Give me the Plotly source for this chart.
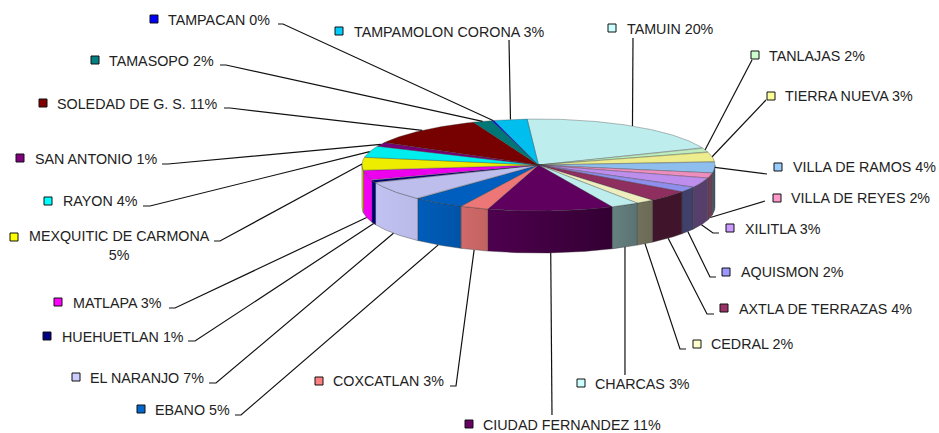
import math
import plotly.graph_objects as go

categories = ["TAMUIN", "TANLAJAS", "TIERRA NUEVA", "VILLA DE RAMOS", "VILLA DE REYES", "XILITLA",
              "AQUISMON", "AXTLA DE TERRAZAS", "CEDRAL", "CHARCAS", "CIUDAD FERNANDEZ", "COXCATLAN",
              "EBANO", "EL NARANJO", "HUEHUETLAN", "MATLAPA", "MEXQUITIC DE CARMONA", "RAYON",
              "SAN ANTONIO", "SOLEDAD DE G. S.", "TAMASOPO", "TAMPACAN", "TAMPAMOLON CORONA"]
values = [19.8, 1.5, 3.4, 3.9, 1.8, 3.4, 1.9, 3.9, 1.7, 2.6, 11.4, 2.6, 4.7, 6.7, 0.9, 3.4, 4.6, 4.0,
          1.4, 10.8, 1.75, 0.2, 3.0]
percent_labels = ["20%", "2%", "3%", "4%", "2%", "3%", "2%", "4%", "2%", "3%", "11%", "3%", "5%", "7%",
                  "1%", "3%", "5%", "4%", "1%", "11%", "2%", "0%", "3%"]
colors = ["#CCFFFF", "#CCFFCC", "#FFFF99", "#99CCFF", "#FF99CC", "#CC99FF", "#9999FF", "#993366", "#FFFFCC",
          "#CCFFFF", "#660066", "#FF8080", "#0066CC", "#CCCCFF", "#000080", "#FF00FF", "#FFFF00", "#00FFFF",
          "#800080", "#800000", "#008080", "#0000FF", "#00CCFF"]

# Layout (pixel space of the page): pie geometry
CX, CY, RX, RY, DEPTH = 538.5, 165.0, 176.5, 46.0, 42.0
START_DEG = -3.7
# Label layout: key x, key y, text x, text y, stub-inner x, stub-outer x, stub y
label_layout = {
    "TAMUIN": (612, 28, 625.5, 29, 633, 633, 38),
    "TANLAJAS": (755, 55, 767.5, 56, 752, 752, 60),
    "TIERRA NUEVA": (771, 96, 783.5, 96, 766, 766, 100),
    "VILLA DE RAMOS": (778, 167, 791.5, 167, 767, 767, 174),
    "VILLA DE REYES": (777, 198, 789.5, 198, 765, 765, 201),
    "XILITLA": (730, 228, 743.5, 229, 719, 713, 233),
    "AQUISMON": (726, 272, 739.5, 272, 716, 710, 277),
    "AXTLA DE TERRAZAS": (724, 308, 737.5, 309, 714, 707, 314),
    "CEDRAL": (697, 344, 709.5, 344, 686, 680, 349),
    "CHARCAS": (581, 383, 593.5, 384, 625, 625, 375),
    "CIUDAD FERNANDEZ": (469, 424, 481.5, 425, 552, 552, 415),
    "COXCATLAN": (319, 381, 331.5, 381, 450, 456, 386),
    "EBANO": (141, 409, 153.5, 410, 235, 241, 415),
    "EL NARANJO": (76, 377, 88.5, 378, 209, 216, 383),
    "HUEHUETLAN": (47, 336, 60.5, 337, 188, 195, 341),
    "MATLAPA": (58, 302, 71.5, 303, 169, 175, 308),
    "MEXQUITIC DE CARMONA": (14, 237, 27.5, 245, 214, 220, 241),
    "RAYON": (48, 201, 61.5, 201, 143, 150, 206),
    "SAN ANTONIO": (20, 158, 33.5, 159, 162, 168, 164),
    "SOLEDAD DE G. S.": (43, 103, 55.5, 104, 224, 230, 108),
    "TAMASOPO": (95, 60, 107.5, 61, 220, 226, 65),
    "TAMPACAN": (154, 19, 167, 20, 278, 283, 24),
    "TAMPAMOLON CORONA": (339, 31, 353, 32, 509, 509, 40),
}


def px(theta):
    return CX + RX * math.sin(math.radians(theta))


def py(theta, drop=0.0):
    return CY - RY * math.cos(math.radians(theta)) + drop


def shade(hex_color, f):
    r, g, b = (int(hex_color[i:i + 2], 16) for i in (1, 3, 5))
    return f"rgb({r * f:.0f},{g * f:.0f},{b * f:.0f})"


def side_factor(x):
    t = min(1.0, max(0.0, (x - 400) / 250))
    return 0.95 - 0.53 * t


total = sum(values)
spans = []
a = START_DEG
for v in values:
    b = a + v / total * 360
    spans.append((a, b))
    a = b

fig = go.Figure()
EDGE = "rgba(50,50,50,0.65)"

# side walls
for (a, b), c in zip(spans, colors):
    lo, hi = max(a, 90), min(b, 270)
    if hi <= lo:
        continue
    n = max(2, int((hi - lo) * 2))
    th = [lo + (hi - lo) * i / n for i in range(n + 1)]
    xs = [px(t) for t in th] + [px(t) for t in reversed(th)] + [px(th[0])]
    ys = [py(t) for t in th] + [py(t, DEPTH) for t in reversed(th)] + [py(th[0])]
    fig.add_trace(go.Scatter(
        x=xs, y=ys, mode="lines", fill="toself",
        line=dict(color=EDGE, width=0.6), hoverinfo="skip",
        fillgradient=dict(type="horizontal", colorscale=[[0, shade(c, side_factor(min(xs)))],
                                                         [1, shade(c, side_factor(max(xs)))]]),
    ))

# top face
for (a, b), c in zip(spans, colors):
    n = max(2, int((b - a) * 2))
    th = [a + (b - a) * i / n for i in range(n + 1)]
    xs = [CX] + [px(t) for t in th] + [CX]
    ys = [CY] + [py(t) for t in th] + [CY]
    fig.add_trace(go.Scatter(x=xs, y=ys, mode="lines", fill="toself", fillcolor=shade(c, 0.93),
                             line=dict(color=EDGE, width=0.5), hoverinfo="skip"))

# leader lines, anchored on the rim at each slice's mid angle
for (a, b), name in zip(spans, categories):
    mid = (a + b) / 2
    drop = DEPTH if 96 < mid < 270 else 0
    kx, ky, tx, ty, s1, s2, sy = label_layout[name]
    fig.add_trace(go.Scatter(x=[s1, s2, px(mid)], y=[sy, sy, py(mid, drop)], mode="lines",
                             line=dict(color="#111111", width=1.2), hoverinfo="skip"))

# legend keys
fig.add_trace(go.Scatter(
    x=[label_layout[n][0] for n in categories], y=[label_layout[n][1] for n in categories],
    mode="markers", hoverinfo="skip",
    marker=dict(symbol="square", size=8, color=colors, line=dict(color="#111111", width=1)),
))

for name, pct in zip(categories, percent_labels):
    kx, ky, tx, ty, *_ = label_layout[name]
    txt = f"{name} {pct}" if name != "MEXQUITIC DE CARMONA" else f"{name}<br>{pct}"
    fig.add_annotation(x=tx, y=ty, text=txt, showarrow=False, xanchor="left", yanchor="middle",
                       align="center", borderpad=0,
                       font=dict(family="Liberation Sans", size=14.3, color="#222222"))

fig.update_layout(
    width=939, height=433, margin=dict(l=0, r=0, t=0, b=0), showlegend=False,
    paper_bgcolor="white", plot_bgcolor="white",
    xaxis=dict(range=[0, 939], visible=False, fixedrange=True),
    yaxis=dict(range=[433, 0], visible=False, fixedrange=True),
)
fig.write_html("out.html", config={"displayModeBar": False},
               post_script="document.body.style.margin='0';document.body.style.overflow='hidden';")
